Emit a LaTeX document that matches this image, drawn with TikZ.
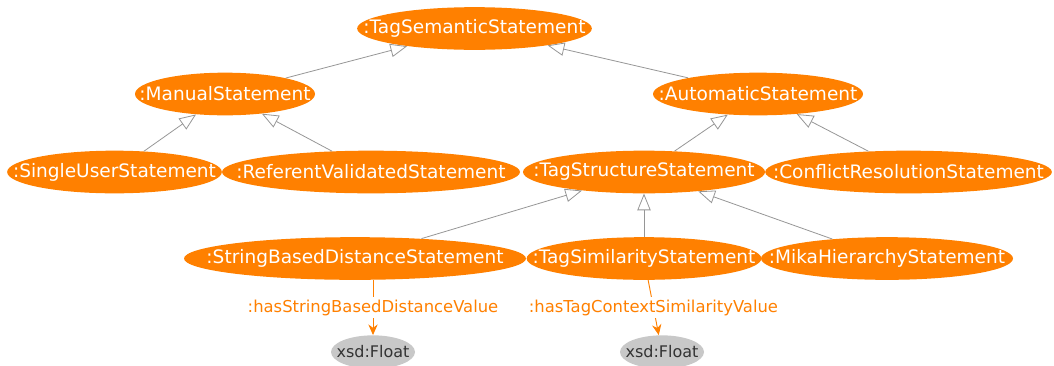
\documentclass[tikz,border=0pt]{standalone}
\usepackage{fontspec}
\setmainfont{DejaVu Sans}
\usetikzlibrary{shapes.geometric,arrows.meta,positioning}

\definecolor{owlorange}{RGB}{255,128,0}
\definecolor{isagray}{RGB}{150,150,150}
\definecolor{dtgray}{RGB}{200,200,200}
\newcommand{\conceptname}[1]{\makebox[0pt]{#1}}

\begin{document}
\begin{tikzpicture}[
        x=0.75pt, y=-0.75pt,
        concept/.style={ellipse, fill=owlorange, text=white, inner sep=0pt,
            minimum width=#1, minimum height=32pt, font=\fontsize{13.9}{16}\selectfont},
        datatype/.style={ellipse, fill=dtgray, text=black!80, inner sep=0pt,
            minimum width=63pt, minimum height=25pt, font=\fontsize{12}{14}\selectfont},
        isa/.style={-{Triangle[length=12.5pt, width=10pt, fill=white]}, draw=isagray, line width=0.6pt},
        prop/.style={-{Stealth[length=8pt, width=7pt]}, draw=owlorange, line width=0.7pt},
        plabel/.style={fill=white, text=owlorange, inner sep=2pt, font=\fontsize{12.3}{14}\selectfont}
    ]
    \useasboundingbox (0,0) rectangle (1054,365);

    % top levels
    \node[concept=176pt] (semantic) at (474.5,28.5) {\conceptname{:TagSemanticStatement}};
    \node[concept=135pt] (manual) at (225,94) {\conceptname{:ManualStatement}};
    \node[concept=157.5pt] (automatic) at (758,94) {\conceptname{:AutomaticStatement}};

    % second row
    \node[concept=161pt] (singleuser) at (114.5,172) {\conceptname{:SingleUserStatement}};
    \node[concept=223.5pt] (referent) at (371,172) {\conceptname{:ReferentValidatedStatement}};
    \node[concept=181.5pt] (structure) at (644,172) {\conceptname{:TagStructureStatement}};
    \node[concept=215pt] (conflict) at (908.5,172) {\conceptname{:ConflictResolutionStatement}};

    % third row
    \node[concept=256.5pt] (stringdist) at (355,258.5) {\conceptname{:StringBasedDistanceStatement}};
    \node[concept=176pt] (similarity) at (644,258.5) {\conceptname{:TagSimilarityStatement}};
    \node[concept=189pt] (mika) at (887,258.5) {\conceptname{:MikaHierarchyStatement}};

    % datatypes
    \node[datatype] (floatA) at (373,352) {\conceptname{xsd:Float}};
    \node[datatype] (floatB) at (662,352) {\conceptname{xsd:Float}};

    \draw[isa] (manual) -- (semantic);
    \draw[isa] (automatic) -- (semantic);
    \draw[isa] (singleuser) -- (manual);
    \draw[isa] (referent) -- (manual);
    \draw[isa] (structure) -- (automatic);
    \draw[isa] (conflict) -- (automatic);
    \draw[isa] (stringdist) -- (structure);
    \draw[isa] (similarity) -- (structure);
    \draw[isa] (mika) -- (structure);

    % properties
    \draw[prop] (stringdist.south -| floatA) -- node[plabel] {:hasStringBasedDistanceValue} (floatA);
    \draw[prop] (similarity) -- node[plabel] {:hasTagContextSimilarityValue} (floatB);
\end{tikzpicture}
\end{document}
